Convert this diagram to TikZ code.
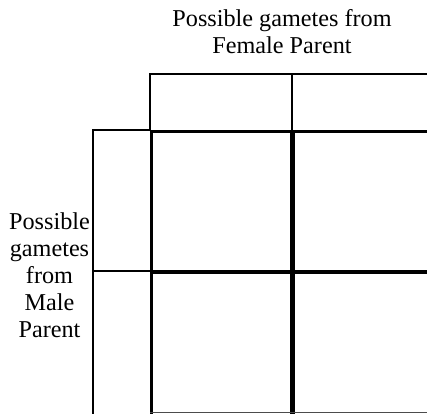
\documentclass[tikz,border=0pt]{standalone}
\usepackage{fontspec}
\setmainfont{Liberation Serif}
\begin{document}
\begin{tikzpicture}[x=1pt,y=-1pt,
  thinline/.style={line width=1.2pt,black},
  thickline/.style={line width=3pt,black},
  heavyline/.style={line width=4.5pt,black},
  lbl/.style={align=center,inner sep=0pt,font=\fontsize{24.2}{26.8}\selectfont}]
\useasboundingbox (0,0) rectangle (427,413);
% top header box
\draw[thinline] (150,131) -- (150,74) -- (430,74);
\draw[thinline] (292,74) -- (292,131);
% left header box
\draw[thinline] (150,130) -- (93,130);
\draw[line width=2pt] (93,129.4) -- (93,415);
\draw[thinline] (93,271) -- (151,271);
% grid
\draw[thickline] (149.5,131) -- (430,131);
\draw[thickline] (151,131) -- (151,415);
\draw[heavyline] (292.5,131) -- (292.5,415);
\draw[heavyline] (150,272) -- (430,272);
\draw[line width=1pt,black!70] (150,412) -- (430,412);
% labels
\node[lbl,anchor=base] (female) at (282,53.5) {Possible gametes from\\Female Parent};
\node[lbl,anchor=base] (male) at (49.5,337) {Possible\\gametes\\from\\Male\\Parent};
\end{tikzpicture}
\end{document}
